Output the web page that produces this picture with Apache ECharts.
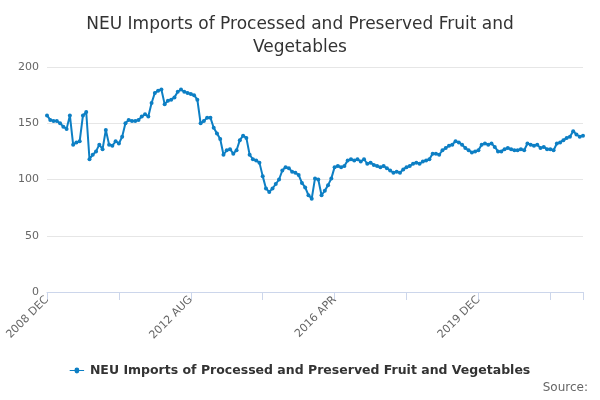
<!DOCTYPE html>
<html>
<head>
<meta charset="utf-8">
<script src="https://cdn.jsdelivr.net/npm/echarts@6/dist/echarts.min.js"></script>
<style>html,body{margin:0;padding:0;background:#fff}#chart{width:600px;height:400px}</style>
</head>
<body>
<div id="chart"></div>
<script>
// monthly series, Dec 2008 .. Oct 2022
const seriesName = 'NEU Imports of Processed and Preserved Fruit and Vegetables';
const values = [
  157,153,152,152,150,147,145,157,131,133,134,157,160,118,122,125,131,127,144,131,
  130,134,132,138,150,153,152,152,153,156,158,156,168,177,179,180,
  167,170,171,173,178,180,178,177,176,175,171,150,
  152,155,155,146,141,136,122,126,127,123,126,135,139,137,122,118,117,115,103,92,89,
  92,96,100,108,111,110,107,106,104,97,93,86,83,
  101,100,86,90,95,101,111,112,111,112,117,
  118,117,118,116,118,114,115,113,112,111,112,110,108,106,107,106,109,111,112,114,
  115,114,116,117,118,123,123,122,126,128,130,131,134,
  133,131,128,126,124,125,126,131,132,131,132,129,125,125,127,128,127,126,126,127,
  126,132,131,130,131,128,129,127,127,126,132,133,135,137,138,143,140,138,139
];
const monthNames = ['JAN','FEB','MAR','APR','MAY','JUN','JUL','AUG','SEP','OCT','NOV','DEC'];
const categories = [];
for (let i = 0; i < values.length; i++) {
  const m = (11 + i) % 12;
  const y = 2008 + Math.floor((11 + i) / 12);
  categories.push(y + ' ' + monthNames[m]);
}
const labelIdx = [0, 44, 88, 132, 166];

const chart = echarts.init(document.getElementById('chart'), null, { renderer: 'canvas' });
chart.setOption({
  animation: false,
  title: {
    text: 'NEU Imports of Processed and Preserved Fruit and\nVegetables',
    left: 'center', top: 8,
    textStyle: { fontFamily: 'DejaVu Sans', fontSize: 17, fontWeight: 'normal', color: '#333', lineHeight: 23 }
  },
  grid: { left: 47, right: 17, top: 67, bottom: 108 },
  xAxis: {
    type: 'category', data: categories, boundaryGap: false,
    axisLine: { lineStyle: { color: '#ccd6eb' } },
    axisTick: { interval: 21, lineStyle: { color: '#ccd6eb' }, length: 8 },
    axisLabel: {
      interval: (i) => labelIdx.includes(i), rotate: 45, color: '#666',
      showMaxLabel: true, hideOverlap: false,
      fontFamily: 'DejaVu Sans', fontSize: 11, margin: 6
    }
  },
  yAxis: {
    type: 'value', min: 0, max: 200, interval: 50,
    axisLabel: { color: '#666', fontFamily: 'DejaVu Sans', fontSize: 11 },
    splitLine: { lineStyle: { color: '#e6e6e6' } }
  },
  legend: {
    bottom: 18, left: 'center', icon: 'path://M0,4 L4,4 A2,2 0 1 1 8,4 L12,4 L12,5 L8,5 A2,2 0 1 1 4,5 L0,5 Z',
    itemWidth: 16, itemHeight: 6,
    textStyle: { fontFamily: 'DejaVu Sans', fontSize: 12.5, fontWeight: 'bold', color: '#333' }
  },
  graphic: [{
    type: 'text', right: 12, bottom: 6,
    style: { text: 'Source:', fill: '#666', font: '12px DejaVu Sans' }
  }],
  series: [{
    name: seriesName, type: 'line', data: values,
    symbol: 'circle', symbolSize: 4, showSymbol: true, showAllSymbol: true,
    itemStyle: { color: '#0d7fc4' },
    lineStyle: { width: 2, color: '#0d7fc4' }
  }]
});
</script>
</body>
</html>
